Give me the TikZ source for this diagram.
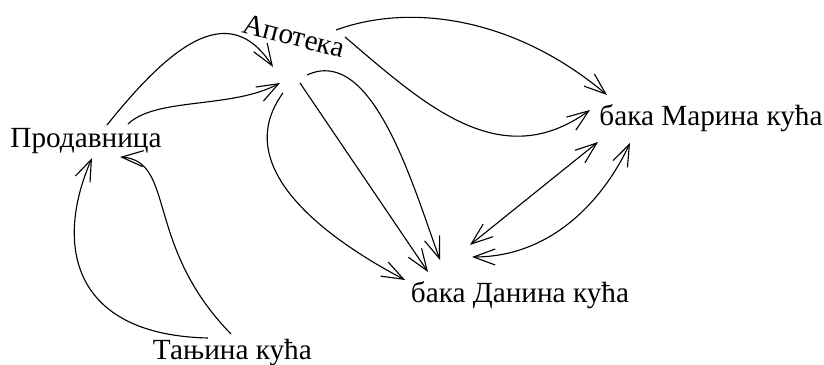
\documentclass[tikz,border=0pt]{standalone}
\usepackage{fontspec}
\setmainfont{Liberation Serif}
\usetikzlibrary{arrows.meta}

\tikzstyle{town} = [font=\fontsize{20.8}{25}\selectfont, inner sep=0pt, anchor=base]
\tikzstyle{road} = [-{Straight Barb[length=5.4mm,width=4mm]}, line width=0.8pt]
\tikzstyle{tworoad} = [{Straight Barb[length=5.4mm,width=4mm]}-{Straight Barb[length=5.4mm,width=4mm]},
                       line width=0.8pt]

\begin{document}
\begin{tikzpicture}
  \useasboundingbox (0,0) rectangle (20.6,9.125);

  \node[town] at (2.15,5.425) (prod)   {Продавница};
  \node[town,rotate=-14.5] at (7.29,8.0) (apo) {Апотека};
  \node[town] at (17.775,5.975) (marina) {бака Марина кућа};
  \node[town] at (13.0,1.55) (danina) {бака Данина кућа};
  \node[town] at (5.81,0.125) (tanja)  {Тањина кућа};

  % Prodavnica -> Apoteka
  \draw[road] ([shift={(0.525,0.575)}]prod.base) .. controls +(1.525,1.9) and +(-1.125,1.75)
              .. ([shift={(-0.465,-0.55)}]apo.base);
  \draw[road] ([shift={(1.05,0.6)}]prod.base) .. controls +(0.7,0.675) and +(-1.2,-0.65)
              .. ([shift={(-0.29,-0.95)}]apo.base);

  % Apoteka -> baka Danina kuca
  \draw[road] ([shift={(-0.215,-1.2)}]apo.base) .. controls +(-1.175,-1.6) and +(-2.645,1.405)
              .. ([shift={(-2.875,0.575)}]danina.base);
  \draw[road] ([shift={(0.21,-0.95)}]apo.base) -- ([shift={(-2.3,0.775)}]danina.base);
  \draw[road] ([shift={(0.385,-0.75)}]apo.base) .. controls +(1.635,0.76) and +(-0.68,1.88)
              .. ([shift={(-2.0,1.075)}]danina.base);

  % Apoteka -> baka Marina kuca
  \draw[road] ([shift={(1.11,0.375)}]apo.base) .. controls +(1.88,0.685) and +(-2.295,1.93)
              .. ([shift={(-2.6,0.775)}]marina.base);
  \draw[road] ([shift={(1.335,0.2)}]apo.base) .. controls +(1.975,-1.68) and +(-2.25,-1.625)
              .. ([shift={(-3.025,0.4)}]marina.base);

  % baka Marina kuca <-> baka Danina kuca
  \draw[tworoad] ([shift={(-2.825,-0.4)}]marina.base) -- ([shift={(-1.25,1.45)}]danina.base);
  \draw[tworoad] ([shift={(-2.025,-0.425)}]marina.base) .. controls +(-0.59,-1.27) and +(2.1,0)
                 .. ([shift={(-1.2,1.15)}]danina.base);

  % Tanjina kuca -> Prodavnica
  \draw[road] ([shift={(-0.61,0.55)}]tanja.base) .. controls +(-3.4,0.075) and +(-0.95,-2.175)
              .. ([shift={(0.15,-0.25)}]prod.base);
  \draw[road] ([shift={(-0.035,0.65)}]tanja.base) .. controls +(-2.175,2.225) and +(1.4,-0.1)
              .. ([shift={(0.85,-0.225)}]prod.base);
\end{tikzpicture}
\end{document}
